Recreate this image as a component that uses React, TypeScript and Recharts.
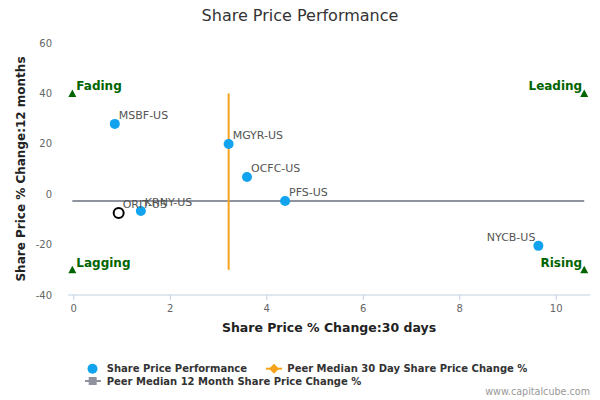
import React from 'react';
import { ScatterChart, Scatter, XAxis, YAxis, LabelList, Label } from 'recharts';

// ---- data ----
const companies = ['MSBF-US', 'MGYR-US', 'OCFC-US', 'PFS-US', 'KRNY-US', 'NYCB-US'];
const change30d = [0.85, 3.21, 3.59, 4.38, 1.39, 9.63];
const change12m = [27.9, 19.9, 6.8, -2.7, -6.7, -20.5];

const focusName = 'ORIT-US';
const focus30d = 0.93;
const focus12m = -7.5;

const peerMedian30d = 3.21;
const peerMedian12m = -2.7;
const verticalLineSpan = [-30, 40];
const horizontalLineSpan = [-0.03, 10.58];

const quadrantNames = ['Fading', 'Leading', 'Lagging', 'Rising'];
const quadrantX = [-0.03, 10.58, -0.03, 10.58];
const quadrantY = [40, 40, -30, -30];

const xTicks = [0, 2, 4, 6, 8, 10];
const yTicks = [-40, -20, 0, 20, 40, 60];

const title = 'Share Price Performance';
const xTitle = 'Share Price % Change:30 days';
const yTitle = 'Share Price % Change:12 months';
const legendLabels = [
  'Share Price Performance',
  'Peer Median 30 Day Share Price Change %',
  'Peer Median 12 Month Share Price Change %',
];
const watermark = 'www.capitalcube.com';

// ---- derived tables ----
const pointData = companies.map((name, i) => ({ name, x: change30d[i], y: change12m[i] }));
const focusData = [{ name: focusName, x: focus30d, y: focus12m }];
const vLine = verticalLineSpan.map((y) => ({ x: peerMedian30d, y }));
const hLine = horizontalLineSpan.map((x) => ({ x, y: peerMedian12m }));
const quadData = quadrantNames.map((name, i) => ({ name, x: quadrantX[i], y: quadrantY[i] }));

const FONT = '"DejaVu Sans", Verdana, sans-serif';
const BLUE = '#12a3ef';
const ORANGE = '#f7a21b';
const GREY = '#8f939e';
const GREEN = '#006400';

const empty = () => <g />;

const BlueDot = (p: any) => <circle cx={p.cx} cy={p.cy} r={5} fill={BLUE} />;
const FocusDot = (p: any) => (
  <circle cx={p.cx} cy={p.cy} r={5} fill="#ffffff" stroke="#000000" strokeWidth={2} />
);

const QuadMarker = (p: any) => {
  const { cx, cy } = p;
  const name = p.payload?.name ?? '';
  const right = cx > 400;
  const top = p.payload?.y > 0;
  return (
    <g>
      <path d={`M ${cx} ${cy - 4} L ${cx + 4} ${cy + 3.5} L ${cx - 4} ${cy + 3.5} Z`} fill={GREEN} />
      <text
        x={right ? cx - 2 : cx + 4}
        y={cy - 3}
        textAnchor={right ? 'end' : 'start'}
        fontFamily={FONT}
        fontSize={12}
        fontWeight="bold"
        fill={GREEN}
      >
        {name}
      </text>
      {top ? null : null}
    </g>
  );
};

const PointLabel = (p: any) => {
  const { x, y, width, value } = p;
  const cx = x + (width ?? 0) / 2;
  const cy = y + (p.height ?? 0) / 2;
  const right = cx > 480;
  return (
    <text
      x={right ? cx - 3 : cx + 4}
      y={cy - 5}
      textAnchor={right ? 'end' : 'start'}
      fontFamily={FONT}
      fontSize={11}
      fill="#555555"
    >
      {value}
    </text>
  );
};

const XTitle = (p: any) => {
  const vb = p.viewBox;
  return (
    <text
      x={vb.x + vb.width / 2}
      y={vb.y + 37}
      textAnchor="middle"
      fontFamily={FONT}
      fontSize={12.5}
      fontWeight="bold"
      fill="#222222"
    >
      {xTitle}
    </text>
  );
};

const YTitle = (p: any) => {
  const vb = p.viewBox;
  const cy = vb.y + vb.height / 2;
  return (
    <text
      x={25}
      y={cy}
      transform={`rotate(-90 25 ${cy})`}
      textAnchor="middle"
      fontFamily={FONT}
      fontSize={12}
      fontWeight="bold"
      fill="#222222"
    >
      {yTitle}
    </text>
  );
};

export default function App() {
  return (
    <div style={{ position: 'absolute', left: 0, top: 0, width: 600, height: 400, background: '#fff' }}>
      <ScatterChart width={600} height={400} margin={{ top: 43, right: 10, bottom: 75, left: 0 }}>
        <XAxis
          type="number"
          dataKey="x"
          domain={[-0.12, 10.7]}
          ticks={xTicks}
          allowDataOverflow
          height={30}
          axisLine={{ stroke: '#c0d0e0' }}
          tickLine={{ stroke: '#c0d0e0' }}
          tickSize={5}
          tickMargin={5}
          tick={{ fill: '#666666', fontSize: 10, fontFamily: FONT }}
        >
          <Label content={XTitle} />
        </XAxis>
        <YAxis
          type="number"
          dataKey="y"
          domain={[-40, 60]}
          ticks={yTicks}
          allowDataOverflow
          width={68}
          axisLine={false}
          tickLine={false}
          tickSize={0}
          tickMargin={16}
          tick={{ fill: '#666666', fontSize: 10, fontFamily: FONT }}
        >
          <Label content={YTitle} />
        </YAxis>
        <Scatter data={hLine} line={{ stroke: GREY, strokeWidth: 2 }} shape={empty} isAnimationActive={false} />
        <Scatter data={vLine} line={{ stroke: ORANGE, strokeWidth: 2 }} shape={empty} isAnimationActive={false} />
        <Scatter data={quadData} shape={QuadMarker} isAnimationActive={false} />
        <Scatter data={focusData} shape={FocusDot} isAnimationActive={false}>
          <LabelList dataKey="name" content={PointLabel} />
        </Scatter>
        <Scatter data={pointData} shape={BlueDot} isAnimationActive={false}>
          <LabelList dataKey="name" content={PointLabel} />
        </Scatter>
      </ScatterChart>
      <svg
        width={600}
        height={400}
        style={{ position: 'absolute', left: 0, top: 0, pointerEvents: 'none' }}
      >
        <text x={300} y={21} textAnchor="middle" fontFamily={FONT} fontSize={16} fill="#333333">
          {title}
        </text>
        <g fontFamily={FONT} fontSize={10} fontWeight="bold" fill="#333333">
          <circle cx={92.5} cy={368.7} r={5} fill={BLUE} />
          <text x={106.7} y={372.4}>{legendLabels[0]}</text>
          <line x1={266} y1={368.7} x2={282} y2={368.7} stroke={ORANGE} strokeWidth={2} />
          <path d="M 274 363.7 L 279 368.7 L 274 373.7 L 269 368.7 Z" fill={ORANGE} />
          <text x={287.3} y={372.4}>{legendLabels[1]}</text>
          <line x1={85} y1={381} x2={101} y2={381} stroke={GREY} strokeWidth={2} />
          <rect x={88.7} y={377} width={8} height={8} fill={GREY} />
          <text x={106.7} y={384.7}>{legendLabels[2]}</text>
        </g>
        <text x={590} y={394.5} textAnchor="end" fontFamily={FONT} fontSize={9.6} fill="#999999">
          {watermark}
        </text>
      </svg>
    </div>
  );
}
